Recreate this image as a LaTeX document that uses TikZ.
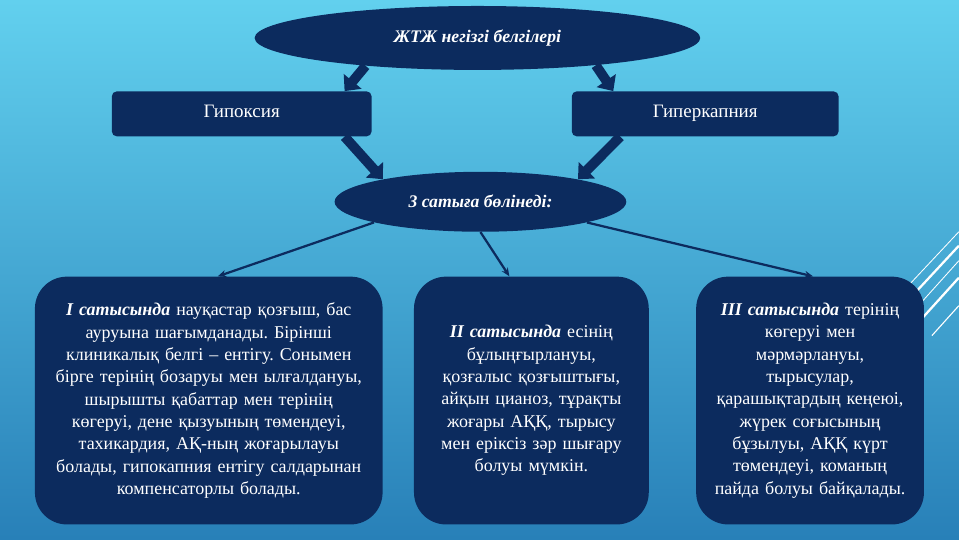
\documentclass[tikz,border=0pt]{standalone}
\usepackage{fontspec}
\setmainfont{Liberation Serif}
\usetikzlibrary{arrows.meta,shapes.geometric,calc}
\definecolor{navy}{RGB}{12,43,94}
\definecolor{skytop}{RGB}{98,208,238}
\definecolor{skybot}{RGB}{40,128,184}
\frenchspacing

\begin{document}
\begin{tikzpicture}[x=0.025cm,y=-0.025cm,
  oval/.style={ellipse,fill=navy,text=white,inner sep=0pt,
    font=\fontsize{12.6}{14}\selectfont\bfseries\itshape},
  namebox/.style={rectangle,rounded corners=3.5pt,fill=navy,text=white,
    minimum width=6.5cm,minimum height=1.125cm,text height=1.6ex,text depth=0.5ex,
    font=\fontsize{13.5}{15}\selectfont},
  stagebox/.style={rectangle,rounded corners=0.8cm,fill=navy,text=white,
    inner sep=0pt,align=center,minimum height=6.2cm,
    font=\fontsize{12.8}{15.9}\selectfont},
  fatarrow/.style={navy,line width=7pt,-{Triangle[width=16pt,length=9pt]}},
  thinarrow/.style={navy,line width=1.6pt,-{Stealth[length=6pt,width=5pt]}}]

  % Fondo
  \shade[top color=skytop,bottom color=skybot] (0,0) rectangle (960,540);
  \foreach \xa/\ya/\xb/\yb/\w in {900/296/960/232/0.6pt, 907/303/960/246/1.6pt,
      915/311/960/261/0.6pt, 922/320/960/278/1.6pt, 933/336/960/306/0.8pt}
    \draw[white,line width=\w] (\xa,\ya) -- (\xb,\yb);

  % Elipses
  \node[oval,minimum width=11.15cm,minimum height=1.6cm] (main) at (478,38) {ЖТЖ негізгі белгілері};
  \node[oval,minimum width=7.3cm,minimum height=1.5cm] (stages) at (481,202) {3 сатыға бөлінеді:};

  % Cajas de signos
  \node[namebox] (hypox) at (242,114) {Гипоксия};
  \node[namebox,minimum width=6.675cm] (hyperc) at (706,114) {Гиперкапния};

  % Cajas de las etapas
  \node[stagebox,text width=8.7cm] (st1) at (209,401) {\textbf{\textit{I сатысында}} науқастар қозғыш, бас\\
    ауруына шағымданады. Бірінші\\
    клиникалық белгі – ентігу. Сонымен\\
    бірге терінің бозаруы мен ылғалдануы,\\
    шырышты қабаттар мен терінің\\
    көгеруі, дене қызуының төмендеуі,\\
    тахикардия, АҚ-ның жоғарылауы\\
    болады, гипокапния ентігу салдарынан\\
    компенсаторлы болады.};
  \node[stagebox,text width=5.875cm] (st2) at (532,401) {\textbf{\textit{II сатысында}} есінің\\
    бұлыңғырлануы,\\
    қозғалыс қозғыштығы,\\
    айқын цианоз, тұрақты\\
    жоғары АҚҚ, тырысу\\
    мен еріксіз зәр шығару\\
    болуы мүмкін.};
  \node[stagebox,text width=5.7cm] (st3) at (811,401) {\textbf{\textit{III сатысында}} терінің\\
    көгеруі мен\\
    мәрмәрлануы,\\
    тырысулар,\\
    қарашықтардың кеңеюі,\\
    жүрек соғысының\\
    бұзылуы, АҚҚ күрт\\
    төмендеуі, команың\\
    пайда болуы байқалады.};

  % Flechas gruesas
  \draw[fatarrow] (main.194) -- ($(hypox.north)+(103,0)$);
  \draw[fatarrow] (main.347) -- ($(hyperc.north)+(-92,0)$);
  \draw[fatarrow] ($(hypox.south)+(103,0)$) -- (stages.167);
  \draw[fatarrow] ($(hyperc.south)+(-85,0)$) -- (stages.13);

  % Flechas finas hacia las etapas
  \draw[thinarrow] (stages.191) -- ($(st1.north)+(9,0)$);
  \draw[thinarrow] (stages.south) -- ($(st2.north)+(-22,0)$);
  \draw[thinarrow] (stages.349) -- ($(st3.north)+(3,0)$);
\end{tikzpicture}
\end{document}
